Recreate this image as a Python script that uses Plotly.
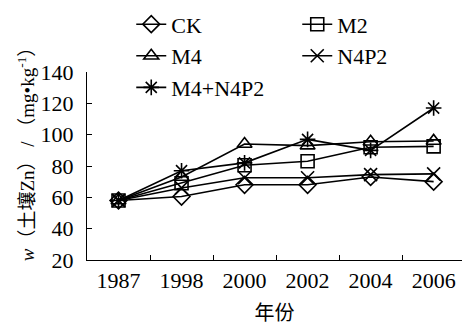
import plotly.graph_objects as go

years = ["1987", "1998", "2000", "2002", "2004", "2006"]
ck = [58, 60.5, 68, 68, 73, 70]
m2 = [58, 69, 80.5, 83, 92, 92.5]
m4 = [58, 73, 94, 93, 95.5, 96]
n4p2 = [58, 66, 72.5, 72.5, 74.5, 75]
m4n4p2 = [58, 77, 82, 97, 90, 117]
yticks = [20, 40, 60, 80, 100, 120, 140]

series = [
    ("CK", ck, "diamond-open"),
    ("M2", m2, "square-open"),
    ("M4", m4, "triangle-up-open"),
    ("N4P2", n4p2, "x-thin-open"),
    ("M4+N4P2", m4n4p2, "asterisk-open"),
]

FONT = "'Liberation Serif', 'Times New Roman', 'Noto Sans CJK SC', serif"

fig = go.Figure()
for name, vals, sym in series:
    fig.add_trace(go.Scatter(
        x=years, y=vals, name=name, mode="lines+markers",
        line=dict(color="black", width=1.6),
        marker=dict(symbol=sym, size=13, color="black", line=dict(width=1.6, color="black")),
    ))

fig.update_layout(
    width=462, height=327,
    margin=dict(l=87, r=0, t=72, b=67, autoexpand=False),
    plot_bgcolor="white", paper_bgcolor="white",
    font=dict(family=FONT, size=22, color="black"),
    showlegend=True,
    legend=dict(
        orientation="h", x=0.118, y=1.365, xanchor="left", yanchor="top",
        entrywidth=121, entrywidthmode="pixels",
        font=dict(family=FONT, size=22, color="black"),
        bgcolor="rgba(0,0,0,0)", traceorder="normal",
    ),
    xaxis=dict(
        type="category", range=[-0.5, 5.45], showline=True, linecolor="black",
        linewidth=1.2, ticks="inside", ticklen=5, tickcolor="black",
        tickson="boundaries", showgrid=False, zeroline=False,
        title=dict(text="年份", font=dict(family=FONT, size=20), standoff=14),
    ),
    yaxis=dict(
        range=[20, 140], tickmode="array", tickvals=yticks,
        ticktext=[str(v) for v in yticks],
        showline=True, linecolor="black",
        linewidth=1.2, ticks="inside", ticklen=5, tickcolor="black",
        showgrid=False, zeroline=False, ticklabelstandoff=8,
    ),
    annotations=[dict(
        text="<i>w</i>（土壤Zn） / （mg•kg<sup>-1</sup>）",
        xref="paper", yref="paper", x=-0.162, y=0, xanchor="center", yanchor="bottom",
        yshift=-3, textangle=-90, showarrow=False,
        font=dict(family=FONT, size=19, color="black"),
    )],
)

fig.write_html("out.html")
